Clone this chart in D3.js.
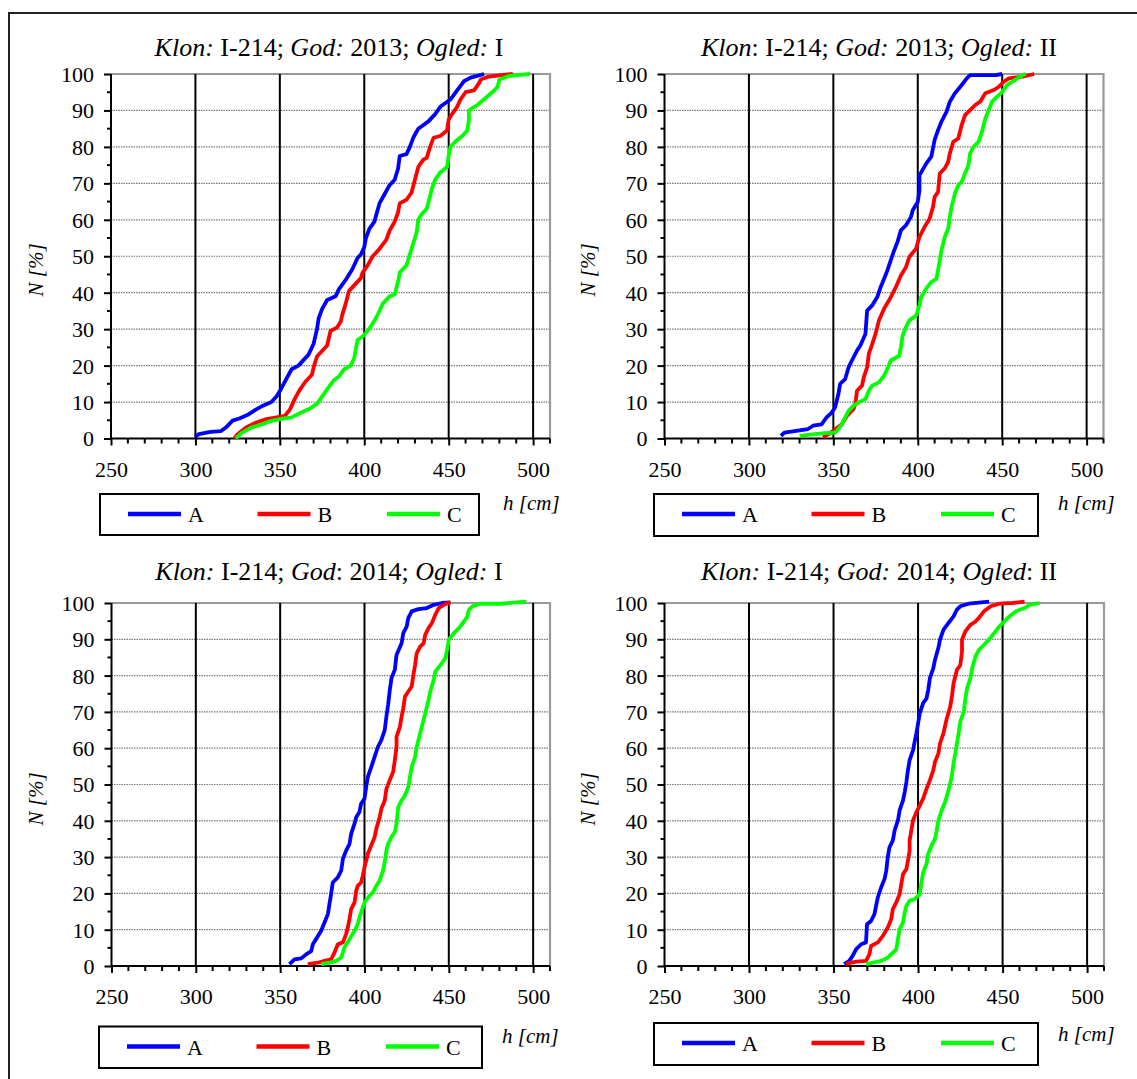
<!DOCTYPE html>
<html><head><meta charset="utf-8">
<script src="https://cdn.jsdelivr.net/npm/d3@7"></script>
<style>
body{margin:0;background:#fff}
svg{display:block;font-family:"Liberation Serif","Times New Roman",serif}
text{white-space:pre}
</style>
</head><body>
<svg id="c" width="1137" height="1079"></svg>
<script>
// ---------- data ----------
const xMajorTicks = [250, 300, 350, 400, 450, 500];
const yMajorTicks = [0, 10, 20, 30, 40, 50, 60, 70, 80, 90, 100];
const seriesNames = ["A", "B", "C"];
const xAxisTitle = "h [cm]";
const yAxisTitle = "N [%]";

// Panel 1: Klon I-214; God 2013; Ogled I  — [h (cm), N (%)]
const p1_A = [[300,0.5],[302,1.2],[309,1.8],[315,2],[318,3],[322,4.9],[326,5.5],[331,6.5],[336,8],[340,9],[345,10],[348,11.5],[350,13],[354,16.5],[357,19],[361,20],[364,21.5],[367,23],[370,26],[372,30],[373,33],[375,35.5],[378,38],[383,39],[385,41],[389,43.5],[393,46.5],[396,49.5],[398,50.5],[400,52.5],[401,55],[403,57.5],[406,59.5],[409,64.5],[412,67],[415,69.5],[418,71],[420,74],[421,77.5],[425,78],[427,80],[429,82.5],[432,85],[438,87],[442,89],[445,91],[451,93],[455,95.5],[459,98],[463,99],[471,100]];
const p1_B = [[323,0],[325,1.2],[330,3],[336,4.4],[342,5.3],[348,5.8],[353,6.2],[356,8],[359,11],[362,13.5],[365,15.5],[369,17.5],[370,19.5],[372,22.5],[375,24],[378,25.5],[380,29.5],[384,30.5],[386,32],[387,34],[389,37],[391,40.5],[395,42.5],[398,44],[399,45.5],[402,47.5],[405,50],[409,52],[413,54.5],[415,57],[418,59.5],[420,62],[421,64.5],[425,65.5],[428,67.5],[430,71],[432,74.5],[435,76.5],[437,77],[439,80],[441,82.5],[445,83],[449,84.5],[450,87.5],[452,89],[455,91],[457,93],[460,95],[465,95.5],[468,97.5],[469,98.5],[473,99.2],[481,99.7],[488,100]];
const p1_C = [[324,0],[327,1.4],[333,3],[339,3.8],[344,4.7],[350,5.3],[357,5.8],[362,7],[367,8],[372,9.5],[375,11.5],[378,13.5],[382,16],[385,17],[388,19],[392,20],[394,22],[396,27],[399,28],[402,29.5],[405,31.5],[408,34],[411,37],[415,39],[418,39.5],[420,43],[421,45.5],[425,47.5],[427,50.5],[429,53.5],[431,56.5],[432,60],[434,61.5],[437,63],[439,66.5],[440,68.5],[442,71],[445,73],[449,74.5],[450,77.5],[451,80],[454,81.5],[458,83],[461,84.5],[462,87.5],[462,90],[467,91.5],[472,93.5],[477,95.5],[479,96.5],[480,98.5],[486,99.5],[498,100]];

// Panel 2: Klon I-214; God 2013; Ogled II
const p2_A = [[319,0.7],[321,1.6],[328,2.1],[335,2.6],[338,3.5],[343,3.9],[346,5.8],[349,7.1],[351,8.5],[353,12.2],[354,15],[357,16.3],[359,19.5],[361,21.4],[364,24.1],[366,25.5],[369,28.7],[370,35.1],[373,36.5],[376,38.8],[378,41.5],[380,43.8],[382,46.1],[384,48.9],[386,51.6],[388,53.9],[390,57.1],[393,58.5],[396,60.8],[397,62.6],[400,64.9],[401,68.1],[401,72.2],[405,75.4],[408,77.3],[410,81.9],[412,84.6],[414,86.9],[417,89.6],[419,92.4],[422,94.7],[426,97],[429,98.8],[431,99.7],[446,99.7],[450,100]];
const p2_B = [[344,0.3],[350,2.1],[355,3.9],[358,6.2],[362,8.1],[363,9.4],[364,13.1],[367,14.5],[368,16.8],[370,19.5],[371,23.2],[373,25.9],[375,28.7],[377,32.4],[380,35.6],[383,37.9],[385,39.7],[387,41.5],[390,44.7],[393,47],[395,49.8],[399,52.1],[401,55.3],[404,58],[407,60.3],[409,63.5],[410,66.3],[412,67.6],[413,72.7],[416,74.1],[418,75.9],[419,78.2],[421,81.4],[424,82.3],[426,86],[428,88.7],[431,90.1],[434,91.5],[437,92.4],[440,94.7],[445,95.6],[448,96.5],[451,97.9],[454,98.8],[462,99.3],[469,100]];
const p2_C = [[330,0.7],[339,1.2],[345,1.5],[351,1.6],[353,2.6],[355,3.9],[357,5.8],[359,7.6],[362,9],[365,9.9],[369,10.8],[371,13.1],[373,14.5],[377,15.4],[380,17.2],[382,19.1],[384,21.4],[389,22.7],[390,25],[391,28.2],[393,30.5],[395,32.4],[399,33.7],[401,36.5],[402,38.8],[405,41.1],[408,42.9],[411,43.8],[412,46.1],[413,48.9],[414,51.6],[416,55.3],[418,57.6],[419,60.8],[420,63.5],[422,67.2],[424,69.5],[426,70.4],[428,72.7],[430,75],[431,78.2],[433,80],[436,81.4],[438,84.1],[440,87.8],[442,90.1],[444,92.4],[447,93.8],[450,95.1],[453,97],[457,98.2],[462,99.7],[464,100]];

// Panel 3: Klon I-214; God 2014; Ogled I
const p3_A = [[355.5,0.5],[358.5,1.8],[362.5,2.1],[365.4,3.2],[368.4,4.1],[369.4,6],[371.3,7.4],[374.3,9.7],[376.3,12],[378.3,14.3],[379.2,17],[380.2,19.8],[381.2,23],[384.2,24.4],[386.2,26.3],[387.2,29.5],[389.1,31.8],[391.1,33.6],[392.1,36.4],[394.1,39.2],[395.1,41],[397,42.4],[398,44.7],[400,46.1],[401,49.3],[402,52.1],[404,54.8],[406,57.6],[408,60.4],[410,62.2],[412,65],[413,68.7],[414,71.9],[415,76],[416,79.3],[418,81.6],[419,85.7],[422,88.9],[423,91.7],[425,93.5],[426,95.9],[428,97.7],[432,98.3],[437,98.6],[441,99.5],[446,100],[451,100.2]];
const p3_B = [[366.4,0.5],[372.3,0.9],[376.3,1.4],[380.2,1.8],[382.2,3.7],[384.2,6],[387.2,6.5],[389.1,8.8],[390.1,10.6],[391.1,12.9],[392.1,15.7],[394.1,17.5],[395.1,20.7],[396,22.1],[398,23],[399,24.9],[400,27.2],[401,29],[402,30.9],[404,33.2],[406,35.5],[407,37.8],[409,41],[410,43.3],[412,45.6],[413,48.8],[415,51.2],[417,53.5],[418,56.7],[419,60.4],[419,63.1],[421,65.9],[422,68.7],[423,71],[424,74.2],[426,75.6],[428,77],[429,80.2],[430,82.9],[431,86.2],[433,88],[435,88.9],[436,91.2],[438,93.1],[440,94.5],[442,96.8],[444,98.6],[447,99.5],[451,100.2]];
const p3_C = [[374.3,0.5],[379.2,0.9],[383.2,1.4],[386.2,2.3],[388.1,5.1],[391.1,7.4],[394.1,9.7],[396,11.5],[397,13.4],[399,16.1],[400,17.5],[403,19.4],[405,20.3],[407,22.1],[409,23.5],[411,26.3],[412,28.6],[413,31.8],[414,33.6],[416,35.5],[418,36.9],[419,39.2],[420,43.8],[422,45.6],[424,47],[426,49.3],[427,52.1],[428,54.8],[430,57.6],[431,60.4],[433,64.1],[435,67.7],[436,69.6],[438,73.3],[439,75.6],[441,78.8],[442,81.1],[445,82.9],[448,84.8],[449,87.1],[450,89.9],[453,91.7],[456,93.1],[459,94.9],[461,96.3],[462,98.2],[464,99.1],[469,99.8],[482,99.8],[490,100.2],[496,100.4]];

// Panel 4: Klon I-214; God 2014; Ogled II
const p4_A = [[356.3,0.5],[359.3,1.4],[361.3,2.8],[363.3,4.6],[366.3,6],[369.2,6.5],[369.8,11.5],[372.2,12.4],[374.2,14.3],[375.2,16.6],[376.2,18.9],[378.2,21.7],[380.2,24],[381.2,26.3],[382.1,30],[383.1,32.7],[385.1,34.6],[386.1,37.3],[388.1,40.1],[389.1,42.9],[391.1,45.6],[392.1,47.9],[393.1,50.7],[394,53.9],[395,56.7],[397,59.4],[398,61.8],[399,64.1],[400,66.8],[401,69.6],[403,72.4],[405,73.7],[406,76],[407,79.3],[409,82],[410,84.3],[412,87.6],[413,89.9],[415,92.6],[418,94.5],[421,96.3],[423,98.2],[425,99.1],[430,99.8],[442,100.4]];
const p4_B = [[357.3,0.6],[363.3,1.2],[369.2,1.4],[371.2,3.2],[372.2,5.5],[376.2,6.5],[379.2,8.3],[382.1,10.6],[384.1,12.9],[385.1,15.7],[387.1,17.5],[389.1,19.8],[390.1,22.6],[391.1,25.3],[393.1,26.7],[394,29],[395,31.8],[395,34.6],[396,37.3],[397,40.1],[399,42.4],[401,44.2],[403,46.1],[405,48.8],[407,51.2],[409,53.9],[410,56.2],[412,58.5],[413,61.3],[415,64.1],[417,68.2],[419,71.4],[420,74.2],[421,77.9],[423,81.6],[425,82.9],[426,86.6],[426,89.9],[428,92.2],[431,94],[434,94.9],[436,95.9],[439,97.7],[443,99.1],[448,99.8],[456,100],[463,100.4]];
const p4_C = [[369.2,0.5],[378.2,1.4],[382.1,2.3],[385.1,3.7],[387.1,4.6],[388.1,7.4],[389.1,10.1],[391.1,12],[392.1,14.7],[393.1,16.6],[395.1,18],[398,18.4],[401,19.8],[402,23],[403,25.8],[405,28.1],[406,30.9],[408,33.2],[410,35],[411,37.3],[412,40.1],[414,42.9],[416,45.2],[418,48.4],[419,50.2],[420,52.5],[421,55.8],[422,58.5],[423,61.3],[424,64.1],[425,67.3],[427,70],[428,73.7],[429,76.5],[431,79.3],[432,82],[434,85.3],[436,87.1],[439,88.5],[442,89.9],[445,91.7],[448,93.5],[451,94.9],[454,96.3],[458,97.7],[463,98.6],[466,99.5],[472,100]];

// Titles: [text, italic?]
const title1 = [["Klon:",1],[" I-214; ",0],["God:",1],[" 2013; ",0],["Ogled:",1],[" I",0]];
const title2 = [["Klon",1],[": I-214; ",0],["God:",1],[" 2013; ",0],["Ogled:",1],[" II",0]];
const title3 = [["Klon:",1],[" I-214; ",0],["God",1],[": 2014; ",0],["Ogled:",1],[" I",0]];
const title4 = [["Klon:",1],[" I-214; ",0],["God:",1],[" 2014; ",0],["Ogled",1],[": II",0]];

// ---------- styles / layout ----------
const colors = ["#0000ff", "#ff0000", "#00ff00"];
const panels = [
  {title: title1, data: [p1_A, p1_B, p1_C], xr: [111, 550],   yr: [438.5, 74], tx: 329, ty: 56,  yl: [36, 270],  lg: [100, 494, 379, 41],  hx: 503, hy: 510},
  {title: title2, data: [p2_A, p2_B, p2_C], xr: [664.5, 1103.5], yr: [438.5, 74], tx: 879, ty: 56,  yl: [588, 270], lg: [654, 494, 384, 42],  hx: 1058, hy: 510},
  {title: title3, data: [p3_A, p3_B, p3_C], xr: [111.5, 550], yr: [966, 603],  tx: 329, ty: 580, yl: [36, 799],  lg: [99, 1026.5, 383, 41.5], hx: 502, hy: 1043},
  {title: title4, data: [p4_A, p4_B, p4_C], xr: [664.5, 1104],  yr: [966, 603],  tx: 879, ty: 580, yl: [588, 799], lg: [654, 1023, 384, 42], hx: 1058, hy: 1041}
];

const svg = d3.select("#c");
svg.append("rect").attr("width", 1137).attr("height", 1079).attr("fill", "#fff");
// outer frame (extends beyond the picture on right and bottom)
svg.append("rect").attr("x", 9).attr("y", 13).attr("width", 1200).attr("height", 1200)
  .attr("fill", "none").attr("stroke", "#222").attr("stroke-width", 2);

panels.forEach(p => {
  const x = d3.scaleLinear().domain([250, 510]).range(p.xr);
  const y = d3.scaleLinear().domain([0, 100]).range(p.yr);
  const g = svg.append("g");

  // horizontal dotted gridlines
  g.selectAll("line.hg").data(yMajorTicks.filter(v => v > 0 && v < 100)).enter().append("line")
    .attr("x1", x(250)).attr("x2", x(510)).attr("y1", d => y(d)).attr("y2", d => y(d))
    .attr("stroke", "#7a7a7a").attr("stroke-width", 1.2).attr("stroke-dasharray", "1.5,1");
  // plot area border top/right (gray)
  g.append("path").attr("d", `M${x(250)},${y(100)}H${x(510)}V${y(0)}`)
    .attr("fill", "none").attr("stroke", "#999").attr("stroke-width", 2.2);
  // vertical black gridlines
  g.selectAll("line.vg").data(xMajorTicks.filter(v => v > 250)).enter().append("line")
    .attr("x1", d => x(d)).attr("x2", d => x(d)).attr("y1", y(0)).attr("y2", y(100))
    .attr("stroke", "#000").attr("stroke-width", 2);

  // x axis
  const xAx = d3.axisBottom(x).tickValues(xMajorTicks).tickSize(7).tickFormat(d3.format("d"));
  const xg = g.append("g").attr("transform", `translate(0,${y(0)})`).call(xAx);
  xg.select(".domain").attr("stroke", "#000").attr("stroke-width", 2).attr("d", `M${x(250)},0H${x(510)}`);
  xg.selectAll(".tick line").attr("stroke", "#000").attr("stroke-width", 2);
  xg.selectAll(".tick text").attr("font-family", "Liberation Serif").attr("font-size", 22).attr("fill", "#000").attr("dy", 0).attr("y", 38);
  const xMinor = d3.range(260, 511, 10).filter(v => v % 50 !== 0);
  g.selectAll("line.xm").data(xMinor).enter().append("line")
    .attr("x1", d => x(d)).attr("x2", d => x(d)).attr("y1", y(0)).attr("y2", y(0) + 5)
    .attr("stroke", "#000").attr("stroke-width", 2);

  // y axis
  const yAx = d3.axisLeft(y).tickValues(yMajorTicks).tickSize(7).tickFormat(d3.format("d"));
  const yg = g.append("g").attr("transform", `translate(${x(250)},0)`).call(yAx);
  yg.select(".domain").attr("stroke", "#000").attr("stroke-width", 2).attr("d", `M0,${y(0)}V${y(100)}`);
  yg.selectAll(".tick line").attr("stroke", "#000").attr("stroke-width", 2);
  yg.selectAll(".tick text").attr("font-family", "Liberation Serif").attr("font-size", 22).attr("fill", "#000").attr("x", -17).attr("dy", "0.34em");
  const yMinor = d3.range(5, 100, 10);
  g.selectAll("line.ym").data(yMinor).enter().append("line")
    .attr("x1", x(250) - 4).attr("x2", x(250)).attr("y1", d => y(d)).attr("y2", d => y(d))
    .attr("stroke", "#000").attr("stroke-width", 2);

  // curves
  const line = d3.line().x(d => x(d[0])).y(d => y(d[1])).curve(d3.curveLinear);
  p.data.forEach((s, i) => {
    g.append("path").datum(s).attr("d", line).attr("fill", "none")
      .attr("stroke", colors[i]).attr("stroke-width", 3.8).attr("stroke-linejoin", "round");
  });

  // title
  const t = g.append("text").attr("x", p.tx).attr("y", p.ty).attr("text-anchor", "middle")
    .attr("font-size", 26).attr("fill", "#000");
  p.title.forEach(([s, it]) => t.append("tspan").text(s).attr("font-style", it ? "italic" : "normal"));

  // y axis title
  g.append("text").attr("transform", `translate(${p.yl[0]},${p.yl[1]}) rotate(-90)`)
    .attr("text-anchor", "middle").attr("dy", "0.35em").attr("font-size", 21).attr("font-style", "italic")
    .text(yAxisTitle);
  // x axis title
  g.append("text").attr("x", p.hx).attr("y", p.hy).attr("font-size", 21).attr("font-style", "italic")
    .text(xAxisTitle);

  // legend
  const [lx, ly, lw, lh] = p.lg;
  g.append("rect").attr("x", lx).attr("y", ly).attr("width", lw).attr("height", lh)
    .attr("fill", "#fff").attr("stroke", "#000").attr("stroke-width", 2);
  seriesNames.forEach((n, i) => {
    const ex = lx + 28 + i * 129.5;
    g.append("line").attr("x1", ex).attr("x2", ex + 53).attr("y1", ly + 20).attr("y2", ly + 20)
      .attr("stroke", colors[i]).attr("stroke-width", 4.5);
    g.append("text").attr("x", ex + 60).attr("y", ly + 28).attr("font-size", 22).text(n);
  });
});
</script>
</body></html>
